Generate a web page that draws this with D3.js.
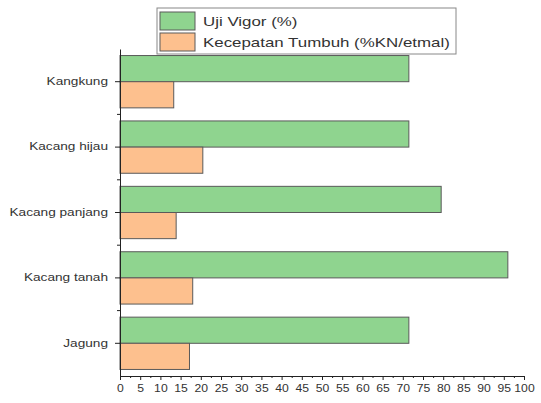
<!DOCTYPE html>
<html><head><meta charset="utf-8">
<script src="https://cdn.jsdelivr.net/npm/d3@7"></script>
<style>body{margin:0;background:#fff}svg{display:block}</style>
</head><body>
<svg id="c" width="541" height="403"></svg>
<script>
const categories = ["Kangkung","Kacang hijau","Kacang panjang","Kacang tanah","Jagung"];
const vigor = [71.5, 71.5, 79.5, 96, 71.5];
const tumbuh = [13.3, 20.5, 13.9, 18, 17.2];
const seriesNames = ["Uji Vigor (%)","Kecepatan Tumbuh (%KN/etmal)"];
const xTicks = d3.range(0, 101, 5);

const FONT = "Liberation Sans, Arial, sans-serif";
const svg = d3.select("#c");
const m = {l:120, r:17, t:49, b:27};
const W = 541, H = 403;
const x = d3.scaleLinear().domain([0,100]).range([m.l, W-m.r]);
const y = d3.scaleBand().domain(categories).range([m.t, H-m.b]).paddingInner(0.2).paddingOuter(0.1);
const sub = d3.scaleBand().domain([0,1]).range([0, y.bandwidth()]);
const colors = ["#8fd48f","#fdc08e"];
const data = [vigor, tumbuh];

const g = svg.append("g");
data.forEach((vals, si) => {
  g.selectAll(".b"+si).data(categories).enter().append("rect")
    .attr("x", x(0))
    .attr("y", c => y(c) + sub(si))
    .attr("width", (c,i) => x(vals[i]) - x(0))
    .attr("height", sub.bandwidth())
    .attr("fill", colors[si])
    .attr("stroke", "#5a5a5a").attr("stroke-width", 1);
});

// x axis
const sx = 1.22;
const xAxis = svg.append("g").attr("transform", `translate(0,${H-m.b})`)
  .call(d3.axisBottom(x).tickValues(xTicks).tickSize(4).tickSizeOuter(0));
xAxis.selectAll("text").attr("font-family",FONT).attr("font-size","10px").attr("fill","#333")
  .attr("y", 9).attr("dy","0.71em").attr("transform", `scale(${sx},1)`);
xAxis.select(".domain").attr("stroke","#222");
xAxis.selectAll(".tick line").attr("stroke","#222");
svg.append("g").attr("transform", `translate(0,${H-m.b})`)
  .call(d3.axisBottom(x).tickValues(d3.range(2.5,100,5)).tickSize(2).tickFormat(""))
  .call(s=>{s.select(".domain").remove(); s.selectAll("line").attr("stroke","#222");});

// y axis
const sy = 1.3;
const yAxis = svg.append("g").attr("transform", `translate(${m.l},0)`)
  .call(d3.axisLeft(y).tickSize(5).tickSizeOuter(0));
yAxis.selectAll("text").attr("font-family",FONT).attr("font-size","10.5px").attr("fill","#333")
  .attr("x", -12/sy).attr("transform", `scale(${sy},1)`);
yAxis.select(".domain").attr("stroke","#222");
yAxis.selectAll(".tick line").attr("stroke","#222");
const bounds = categories.slice(1).map(c => y(c) - y.step()*y.paddingInner()/2);
svg.append("g").selectAll("line").data(bounds).enter().append("line")
  .attr("x1", m.l-3).attr("x2", m.l).attr("y1", d=>d).attr("y2", d=>d).attr("stroke","#222");

// legend
const sl = 1.3;
const lg = svg.append("g").attr("transform","translate(157,8)");
lg.append("rect").attr("width",299).attr("height",46).attr("fill","#fff").attr("stroke","#888").attr("stroke-width",1);
seriesNames.forEach((n,i)=>{
  lg.append("rect").attr("x",3).attr("y",4+i*21).attr("width",35).attr("height",18)
    .attr("fill",colors[i]).attr("stroke","#5a5a5a");
  lg.append("text").attr("x",46/sl).attr("y",18+i*21).text(n)
    .attr("transform", `scale(${sl},1)`)
    .attr("font-family",FONT).attr("font-size","13px").attr("fill","#333");
});
</script>
</body></html>
